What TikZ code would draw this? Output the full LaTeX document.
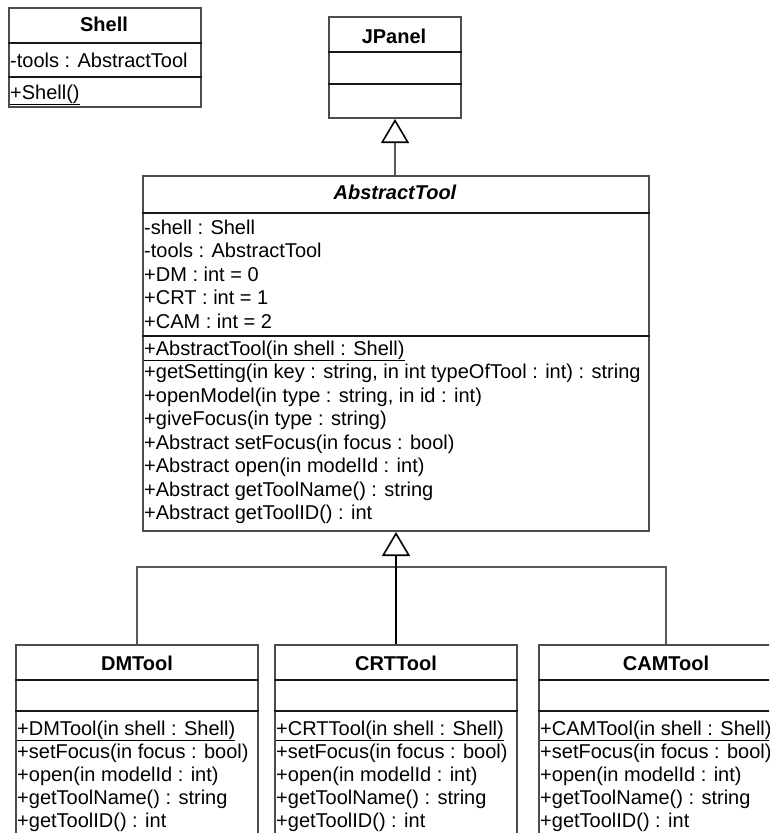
\documentclass[tikz,border=0pt]{standalone}
\usepackage{fontspec}
\setmainfont{Liberation Sans}
\usetikzlibrary{arrows.meta}
\begin{document}
\begin{tikzpicture}[x=1pt,y=-1pt,
  classbox/.style={draw=black!70, line width=2pt, fill=white, inner sep=0pt, anchor=north west},
  divider/.style={draw=black!90, line width=1.6pt},
  member/.style={anchor=base west, inner sep=0pt, font=\fontsize{20}{24}\selectfont, text=black},
  title/.style={anchor=base, inner sep=0pt, font=\fontsize{20}{24}\selectfont\bfseries, text=black},
  link/.style={draw=black!65, line width=2pt},
  realize/.style={draw=black, line width=2.4pt},
  gentip/.style={-{Triangle[length=24pt, width=28pt, fill=white, color=black, line width=1.6pt]}},
]
\useasboundingbox (0,0) rectangle (769,833);
\clip (0,0) rectangle (769,833);
\fill[white] (0,0) rectangle (769,833);

% ---------- Shell ----------
\node[classbox, minimum width=192pt, minimum height=99pt] (shell) at (8,7) {};
\draw[divider] (shell.west |- 0,43) -- (shell.east |- 0,43);
\draw[divider] (shell.west |- 0,77) -- (shell.east |- 0,77);
\node[title] (shell-t) at (104,31) {Shell};
\node[member] (shell-a) at (10,67) {-tools : AbstractTool};
\node[member] (shell-m) at (10,99) {\underline{+Shell()}};

% ---------- JPanel ----------
\node[classbox, minimum width=132pt, minimum height=101pt] (jpanel) at (328,16) {};
\draw[divider] (jpanel.west |- 0,52) -- (jpanel.east |- 0,52);
\draw[divider] (jpanel.west |- 0,84) -- (jpanel.east |- 0,84);
\node[title] (jpanel-t) at (394,43) {JPanel};

% ---------- AbstractTool ----------
\node[classbox, minimum width=506pt, minimum height=355pt] (abstract) at (142,175) {};
\draw[divider] (abstract.west |- 0,213) -- (abstract.east |- 0,213);
\draw[divider] (abstract.west |- 0,336) -- (abstract.east |- 0,336);
\node[title, font=\fontsize{20}{24}\selectfont\bfseries\itshape] (abstract-t) at (395,199) {AbstractTool};
\foreach \txt [count=\i] in {
    -shell : Shell,
    -tools : AbstractTool,
    +DM : int = 0,
    +CRT : int = 1,
    +CAM : int = 2}
  \node[member] (abstract-a\i) at (144,{234+23.5*(\i-1)}) {\txt};
\node[member] (abstract-m1) at (144,355) {\underline{+AbstractTool(in shell : Shell)}};
\foreach \txt [count=\i from 2] in {
    {+getSetting(in key : string, in int typeOfTool : int) : string},
    {+openModel(in type : string, in id : int)},
    {+giveFocus(in type : string)},
    {+Abstract setFocus(in focus : bool)},
    {+Abstract open(in modelId : int)},
    {+Abstract getToolName() : string},
    {+Abstract getToolID() : int}}
  \node[member] (abstract-m\i) at (144,{355+23.5*(\i-1)}) {\txt};

% ---------- concrete tools ----------
\foreach \nm/\lbl/\x/\w in {dm/DMTool/15/242, crt/CRTTool/274/242, cam/CAMTool/538/254} {
  \node[classbox, minimum width=\w pt, minimum height=220pt] (\nm) at (\x,644) {};
  \draw[divider] (\nm.west |- 0,680) -- (\nm.east |- 0,680);
  \draw[divider] (\nm.west |- 0,711) -- (\nm.east |- 0,711);
  \node[title] (\nm-t) at (\nm.north |- 0,670) {\lbl};
  \node[member] (\nm-m1) at (\x+2,735) {\underline{+\lbl(in shell : Shell)}};
  \node[member] (\nm-m2) at (\x+2,758) {+setFocus(in focus : bool)};
  \node[member] (\nm-m3) at (\x+2,781) {+open(in modelId : int)};
  \node[member] (\nm-m4) at (\x+2,804) {+getToolName() : string};
  \node[member] (\nm-m5) at (\x+2,827) {+getToolID() : int};
}

% ---------- generalisations ----------
\coordinate (hub) at (crt.north |- 0,567);
\draw[link] (dm.north) |- (hub);
\draw[link] (cam.north) |- (hub);
\draw[realize, gentip] (crt.north) -- (crt.north |- abstract.south);
\draw[link, gentip] (abstract.north -| jpanel.south) -- (jpanel.south);
\end{tikzpicture}
\end{document}
